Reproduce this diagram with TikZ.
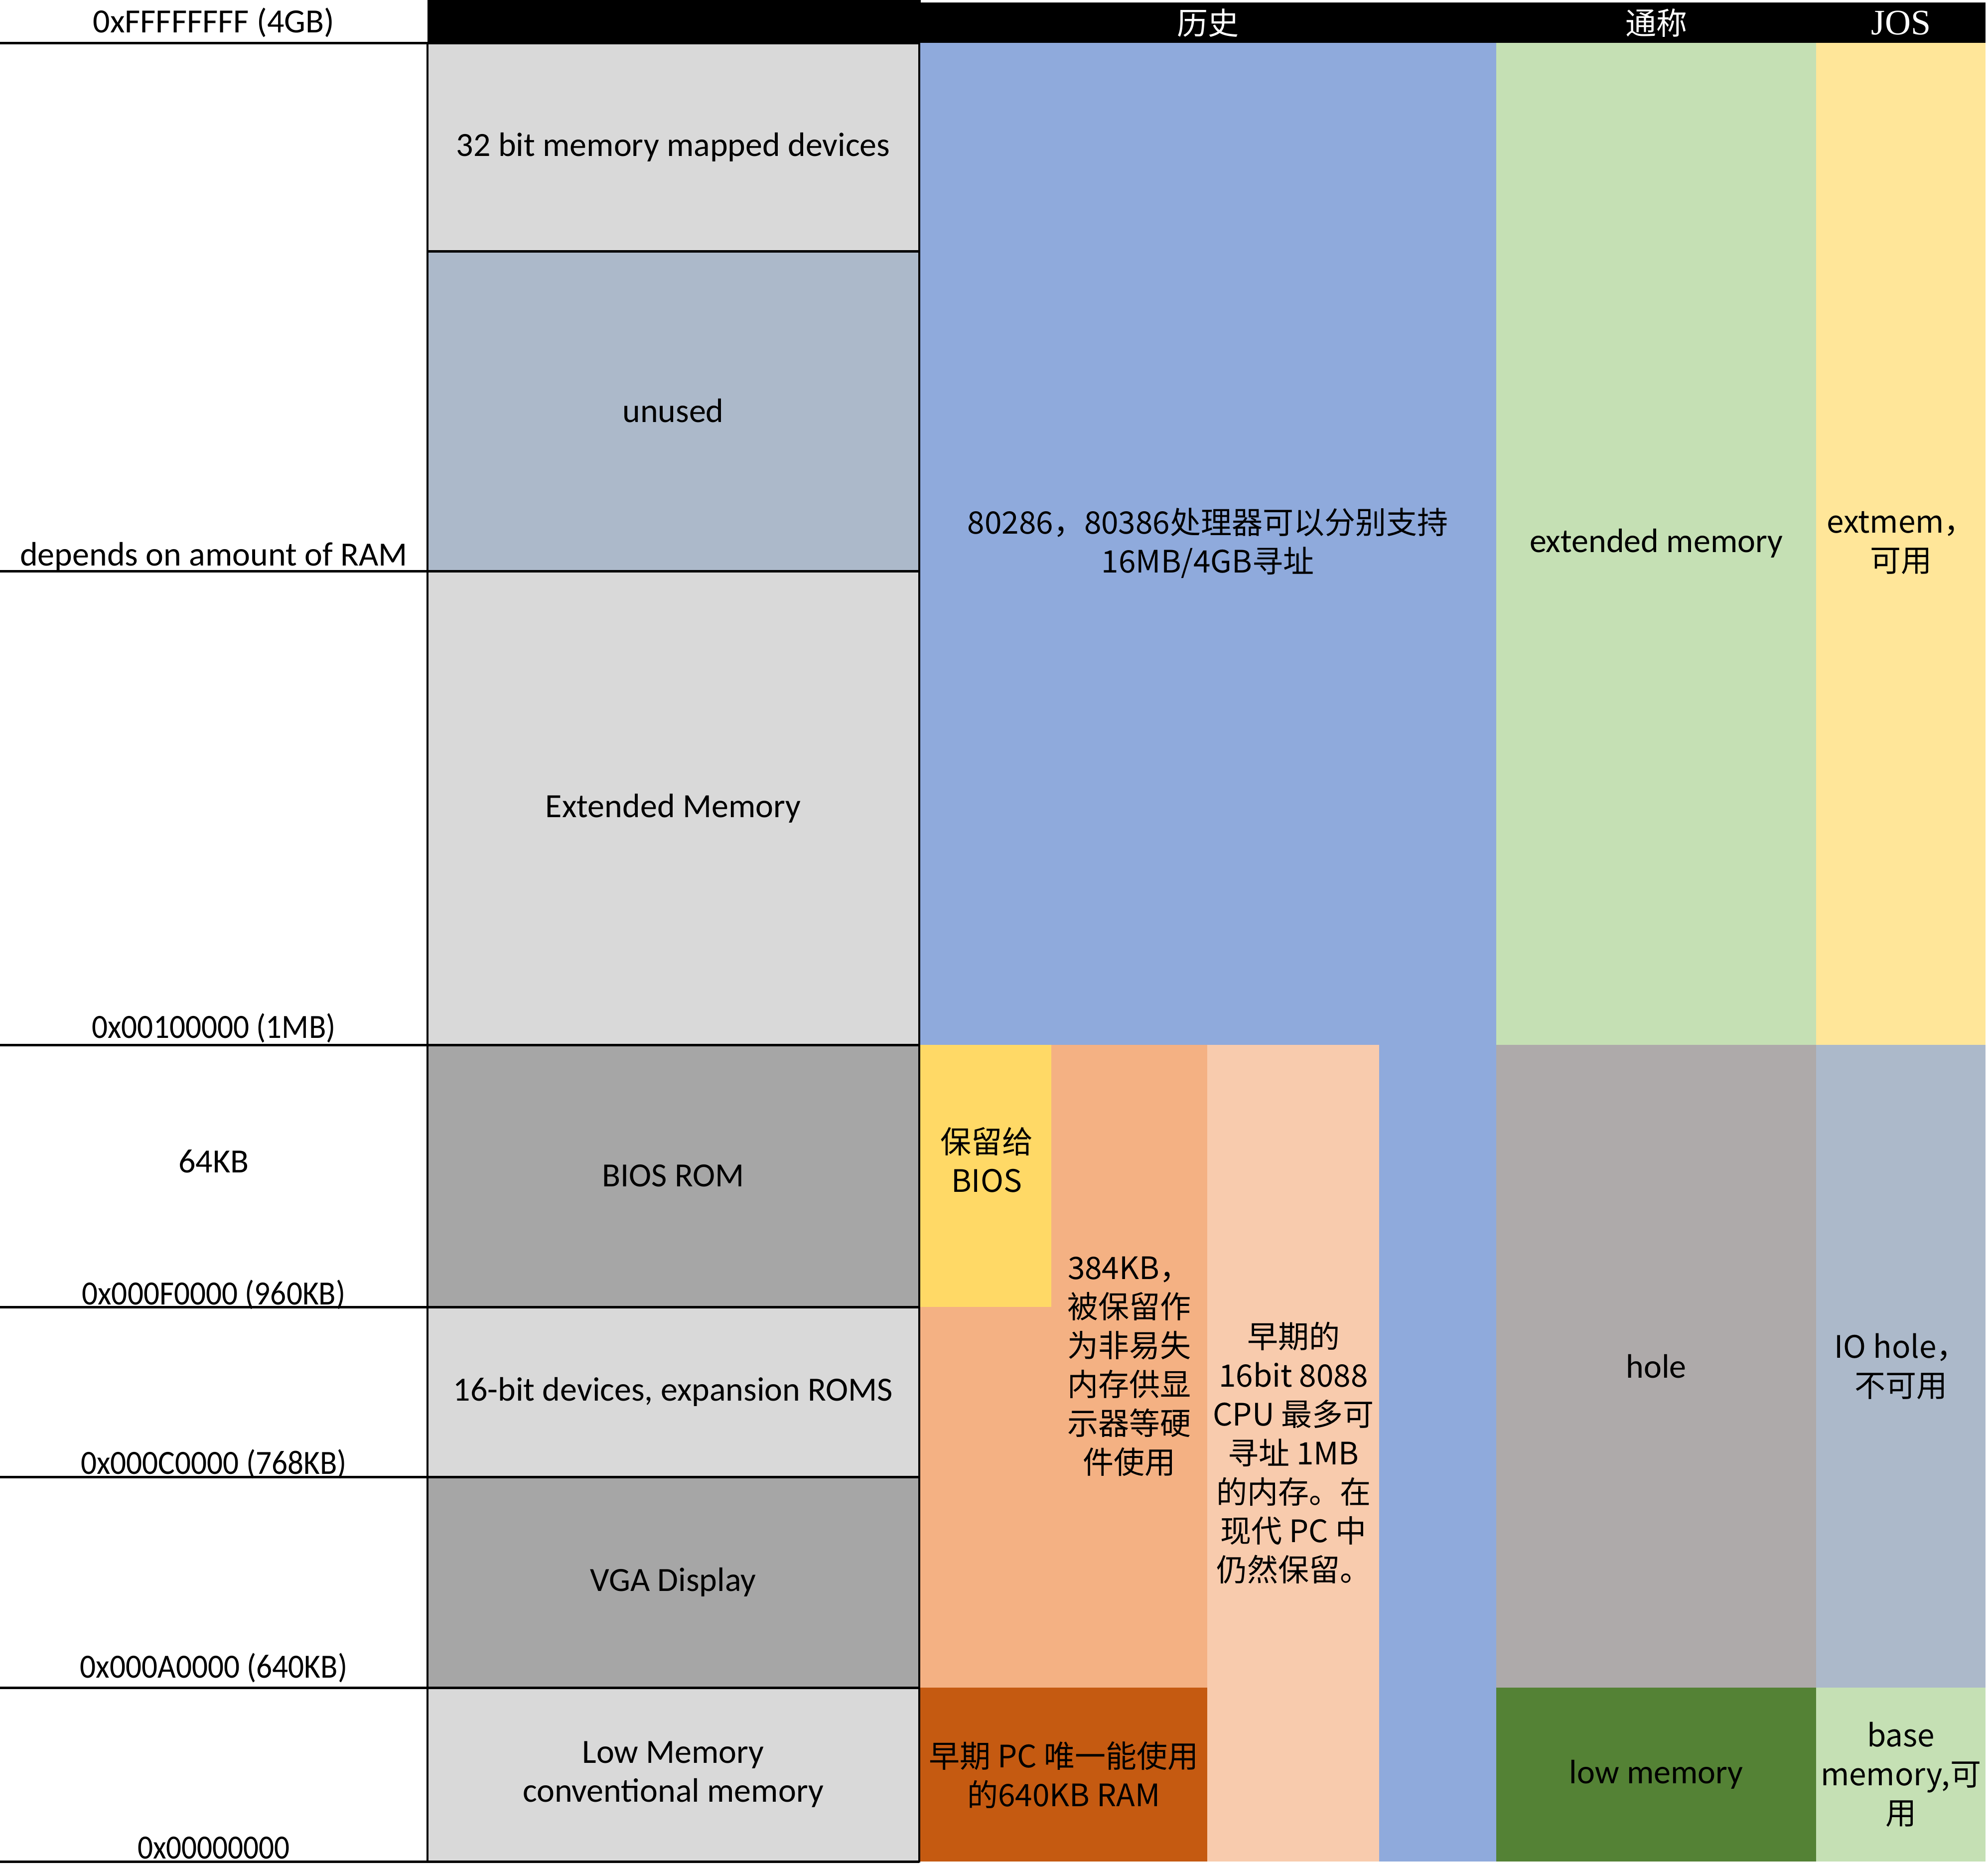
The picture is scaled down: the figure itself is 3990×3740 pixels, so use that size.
\documentclass[tikz,border=0pt]{standalone}
\usepackage{fontspec}
\usepackage{graphicx}
\setmainfont{Carlito}
\newfontfamily\cjk{Noto Sans CJK SC}
\newfontfamily\hdrfont{Liberation Serif}
\newcommand{\narrowtxt}[1]{\scalebox{0.93}[1]{#1}}
\definecolor{cBlue}{HTML}{8FAADC}
\definecolor{cYel}{HTML}{FFD966}
\definecolor{cOra}{HTML}{F4B183}
\definecolor{cDOra}{HTML}{C55A11}
\definecolor{cPeach}{HTML}{F8CBAD}
\definecolor{cGreen}{HTML}{C5E0B4}
\definecolor{cHole}{HTML}{AEAAAA}
\definecolor{cDGreen}{HTML}{548235}
\definecolor{cLYel}{HTML}{FFE699}
\definecolor{cSlate}{HTML}{ACB9CA}
\definecolor{cLGray}{HTML}{D9D9D9}
\definecolor{cMGray}{HTML}{A6A6A6}
\tikzset{
  lat/.style={inner sep=0pt, align=center, font=\fontsize{17}{19.5}\selectfont},
  zh/.style={inner sep=0pt, align=center, font=\cjk\fontsize{15.5}{19.5}\selectfont},
  hdr/.style={inner sep=0pt, text=white, font=\fontsize{17}{19.5}\selectfont},
  hline/.style={line width=1.25pt, black},
  vline/.style={line width=1pt, black}
}
\begin{document}
\begin{tikzpicture}[x=0.25pt,y=-0.25pt]
\useasboundingbox (0,0) rectangle (3990,3740);
% header band
\fill[black] (858,0) rectangle (1848,86);
\fill[black] (1848,5) rectangle (3985,86);
% column 2 fills
\fill[cLGray] (858,86) rectangle (1845,504);
\fill[cSlate] (858,504) rectangle (1845,1146);
\fill[cLGray] (858,1146) rectangle (1845,2097);
\fill[cMGray] (858,2097) rectangle (1845,2623);
\fill[cLGray] (858,2623) rectangle (1845,2964);
\fill[cMGray] (858,2964) rectangle (1845,3387);
\fill[cLGray] (858,3387) rectangle (1845,3736);
% history fills
\fill[cBlue] (1845,86) rectangle (3003,3736);
\fill[cOra] (1847,2097) rectangle (2423,3387);
\fill[cYel] (1847,2097) rectangle (2110,2623);
\fill[cDOra] (1847,3387) rectangle (2423,3736);
\fill[cPeach] (2423,2097) rectangle (2768,3736);
% common-name fills
\fill[cGreen] (3003,86) rectangle (3645,2097);
\fill[cHole] (3003,2097) rectangle (3645,3387);
\fill[cDGreen] (3003,3387) rectangle (3645,3736);
% JOS fills
\fill[cLYel] (3645,86) rectangle (3985,2097);
\fill[cSlate] (3645,2097) rectangle (3985,3387);
\fill[cGreen] (3645,3387) rectangle (3985,3736);
% grid lines
\draw[hline] (0,86) -- (1845,86);
\draw[hline] (858,504) -- (1845,504);
\draw[hline] (0,1146) -- (1845,1146);
\draw[hline] (0,2097) -- (1845,2097);
\draw[hline] (0,2623) -- (1845,2623);
\draw[hline] (0,2964) -- (1845,2964);
\draw[hline] (0,3387) -- (1845,3387);
\draw[hline] (0,3736) -- (1845,3736);
\draw[vline] (858,86) -- (858,3738);
\draw[vline] (1845,86) -- (1845,3738);
% header texts
\node[hdr, font=\cjk\fontsize{15.5}{19.5}\selectfont] (hHist) at (2424,46) {历史};
\node[hdr, font=\cjk\fontsize{15.5}{19.5}\selectfont] (hName) at (3324,46) {通称};
\node[hdr, font=\hdrfont\fontsize{18}{19.5}\selectfont] (hJos) at (3815,46) {JOS};
% left address labels
\node[lat, anchor=base] (a4g) at (429,65) {0xFFFFFFFF (4GB)};
\node[lat, anchor=base] (aram) at (429,1135) {depends on amount of RAM};
\node[lat, anchor=base] (a1m) at (429,2083) {\narrowtxt{0x00100000 (1MB)}};
\node[lat, anchor=base] (a64) at (429,2353) {64KB};
\node[lat, anchor=base] (a960) at (429,2618) {\narrowtxt{0x000F0000 (960KB)}};
\node[lat, anchor=base] (a768) at (429,2958) {\narrowtxt{0x000C0000 (768KB)}};
\node[lat, anchor=base] (a640) at (429,3367) {\narrowtxt{0x000A0000 (640KB)}};
\node[lat, anchor=base] (a0) at (429,3730) {\scalebox{0.9}[1]{0x00000000}};
% column 2 labels
\node[lat] (t32) at (1351,295) {32 bit memory mapped devices};
\node[lat] (tun) at (1351,824) {unused};
\node[lat] (text) at (1351,1622) {Extended Memory};
\node[lat] (tbios) at (1351,2360) {BIOS ROM};
\node[lat] (t16) at (1351,2793) {16-bit devices, expansion ROMS};
\node[lat] (tvga) at (1351,3175) {VGA Display};
\node[lat] (tlow) at (1351,3561) {Low Memory\\conventional memory};
% history labels
\node[zh] (h286) at (2424,1090) {80286，80386处理器可以分别支持\\16MB/4GB寻址};
\node[zh] (hbios) at (1980,2328) {保留给\\BIOS};
\node[zh] (h384) at (2266,2742) {384KB，\\被保留作\\为非易失\\内存供显\\示器等硬\\件使用};
\node[zh] (h8088) at (2596,2916) {早期的\\16bit 8088\\CPU 最多可\\寻址 1MB\\的内存。在\\现代 PC 中\\仍然保留。};
\node[zh] (h640) at (2135,3562) {早期 PC 唯一能使用\\的640KB RAM};
% common names
\node[lat] (nExt) at (3324,1090) {extended memory};
\node[lat] (nHole) at (3324,2742) {hole};
\node[lat] (nLow) at (3324,3561) {low memory};
% JOS
\node[zh] (jExt) at (3815,1090) {extmem，\\可用};
\node[zh] (jHole) at (3815,2742) {IO hole，\\不可用};
\node[zh] (jBase) at (3815,3561) {base\\memory,可\\用};
\end{tikzpicture}
\end{document}
